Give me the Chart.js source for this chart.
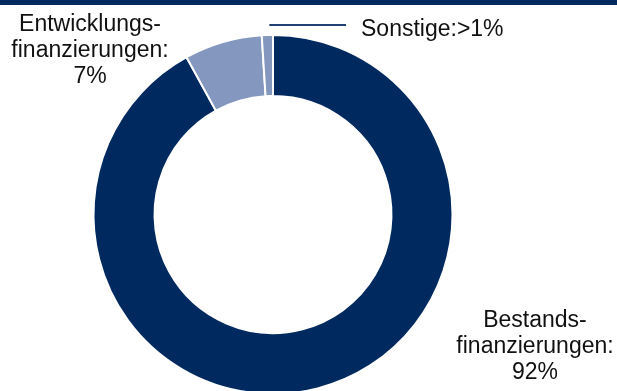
<!DOCTYPE html>
<html>
<head>
<meta charset="utf-8">
<script src="https://cdn.jsdelivr.net/npm/chart.js@4/dist/chart.umd.min.js"></script>
<style>
  html, body { margin: 0; padding: 0; background: #fff; overflow: hidden; }
  #topbar { position: absolute; left: 0; top: 0; width: 617px; height: 5px; background: #002A5F; }
  #wrap { position: absolute; left: 0; top: 0; width: 617px; height: 400px; }
</style>
</head>
<body>
<div id="wrap"><canvas id="c"></canvas></div>
<div id="topbar"></div>
<script>
const categories = ['Bestandsfinanzierungen', 'Entwicklungsfinanzierungen', 'Sonstige'];
const shares = [92, 7, 1];
const labelLines = [
  ['Bestands-', 'finanzierungen:', '92%'],
  ['Entwicklungs-', 'finanzierungen:', '7%'],
  ['Sonstige:>1%']
];
const colors = ['#002A5F', '#8497BF', '#8497BF'];

const labelPlacement = [
  { x: 535, y: 327, align: 'center' },
  { x: 90, y: 31, align: 'center' },
  { x: 361, y: 36, align: 'left' }
];

const labelPlugin = {
  id: 'sliceLabels',
  afterDraw(chart) {
    const ctx = chart.ctx;
    const meta = chart.getDatasetMeta(0);
    ctx.save();
    ctx.fillStyle = '#111';
    ctx.font = '23px "Liberation Sans", Arial, sans-serif';
    ctx.textBaseline = 'alphabetic';
    labelLines.forEach((lines, i) => {
      const p = labelPlacement[i];
      ctx.textAlign = p.align;
      lines.forEach((t, j) => ctx.fillText(t, p.x, p.y + j * 26));
    });
    // leader line for the small slice
    const arc = meta.data[2];
    const mid = (arc.startAngle + arc.endAngle) / 2;
    const sx = arc.x + Math.cos(mid) * arc.outerRadius + 2;
    const sy = arc.y - arc.outerRadius - 10;
    ctx.strokeStyle = '#1F3F73';
    ctx.lineWidth = 2;
    ctx.beginPath();
    ctx.moveTo(sx, sy);
    ctx.lineTo(labelPlacement[2].x - 15, sy);
    ctx.stroke();
    ctx.restore();
  }
};

new Chart(document.getElementById('c'), {
  type: 'doughnut',
  data: {
    labels: categories,
    datasets: [{
      data: shares,
      backgroundColor: colors,
      borderColor: '#ffffff',
      borderWidth: 2,
      hoverOffset: 0
    }]
  },
  options: {
    responsive: true,
    maintainAspectRatio: false,
    animation: false,
    cutout: '66%',
    layout: { padding: { left: 92.5, right: 163.5, top: 34, bottom: 5 } },
    plugins: { legend: { display: false }, tooltip: { enabled: false } }
  },
  plugins: [labelPlugin]
});
</script>
</body>
</html>
